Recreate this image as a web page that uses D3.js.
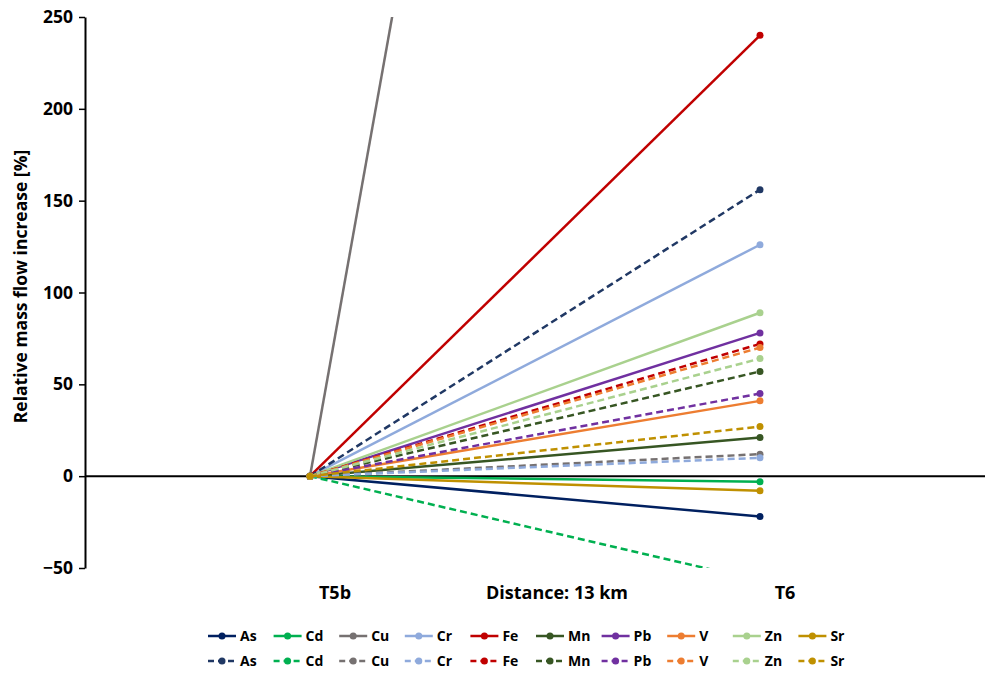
<!DOCTYPE html>
<html>
<head>
<meta charset="utf-8">
<script src="https://cdn.jsdelivr.net/npm/d3@7"></script>
<style>
  body { margin: 0; background: #fff; }
  svg { font-family: 'Open Sans', Lato, sans-serif; font-weight: bold; }
</style>
</head>
<body>
<svg id="chart" width="990" height="674"></svg>
<script>
// values (T5b is the baseline, always 0)
let sites = ['T5b', 'T6']
let elements = ['As', 'Cd', 'Cu', 'Cr', 'Fe', 'Mn', 'Pb', 'V', 'Zn', 'Sr']
let solidT6 = [-22, -3, 1370, 126, 240, 21, 78, 41, 89, -8]
let dashedT6 = [156, -57, 12, 10, 72, 57, 45, 70, 64, 27]
let solidColours = ['#002060', '#00b050', '#767171', '#8faadc', '#c00000', '#375623', '#7030a0', '#ed7d31', '#a9d18e', '#bf9000']
let dashedColours = ['#203864', '#00b050', '#767171', '#8faadc', '#c00000', '#375623', '#7030a0', '#ed7d31', '#a9d18e', '#bf9000']
let yTicks = [-50, 0, 50, 100, 150, 200, 250]

let margin = {top: 17, right: 5, bottom: 106, left: 85}
let width = 990 - margin.left - margin.right
let height = 674 - margin.top - margin.bottom

let series = []
elements.forEach(function(el, i) {
  series.push({name: el, dashed: false, colour: solidColours[i], values: [0, solidT6[i]]})
})
elements.forEach(function(el, i) {
  series.push({name: el, dashed: true, colour: dashedColours[i], values: [0, dashedT6[i]]})
})

let svg = d3.select('#chart')

let g = svg.append('g')
    .attr('transform', 'translate(' + margin.left + ',' + margin.top + ')')

let x = d3.scalePoint()
    .domain(sites)
    .range([0, width])
    .padding(0.5)

let y = d3.scaleLinear()
    .domain([-50, 250])
    .range([height, 0])

g.append('clipPath')
    .attr('id', 'plot-clip')
  .append('rect')
    .attr('width', width)
    .attr('height', height)

let yAxis = g.append('g')
    .attr('class', 'y axis')
    .call(d3.axisLeft(y).tickValues(yTicks).tickSize(6).tickSizeOuter(0))

yAxis.select('.domain')
    .style('stroke', '#000')
    .style('stroke-width', 2)

yAxis.selectAll('line')
    .style('stroke', '#000')
    .style('stroke-width', 1.5)

yAxis.selectAll('text')
    .attr('x', -12)
    .style('font-size', '17.5px')
    .style('font-family', "'Open Sans', Lato, sans-serif")
    .style('font-weight', 'bold')
    .style('fill', '#000')

g.append('line')
    .attr('x1', 0)
    .attr('x2', width)
    .attr('y1', y(0))
    .attr('y2', y(0))
    .style('stroke', '#000')
    .style('stroke-width', 2)

let line = d3.line()
    .x(function(d, i) { return x(sites[i]) })
    .y(function(d) { return y(d) })

let plot = g.append('g')
    .attr('clip-path', 'url(#plot-clip)')

let lines = plot.selectAll('.series')
    .data(series)
  .enter().append('g')
    .attr('class', 'series')

lines.append('path')
    .attr('d', function(d) { return line(d.values) })
    .attr('fill', 'none')
    .attr('stroke', function(d) { return d.colour })
    .attr('stroke-width', 2.5)
    .attr('stroke-dasharray', function(d) { return d.dashed ? '7,4' : null })

lines.selectAll('circle')
    .data(function(d) { return d.values.map(function(v, i) { return {v: v, i: i, colour: d.colour} }) })
  .enter().append('circle')
    .attr('cx', function(d) { return x(sites[d.i]) })
    .attr('cy', function(d) { return y(d.v) })
    .attr('r', 3.5)
    .attr('fill', function(d) { return d.colour })

// category labels sit a bit right of their points in the original
g.selectAll('.site-label')
    .data(sites)
  .enter().append('text')
    .attr('class', 'site-label')
    .attr('x', function(d) { return x(d) + 25 })
    .attr('y', height + 31)
    .attr('text-anchor', 'middle')
    .style('font-size', '18px')
    .text(function(d) { return d })

g.append('text')
    .attr('x', 472)
    .attr('y', height + 31)
    .attr('text-anchor', 'middle')
    .style('font-size', '18px')
    .text('Distance: 13 km')

svg.append('text')
    .attr('transform', 'translate(27,' + (margin.top + height / 2 - 6) + ') rotate(-90)')
    .attr('text-anchor', 'middle')
    .style('font-size', '17.5px')
    .text('Relative mass flow increase [%]')

// legend
let legend = svg.append('g')
    .attr('transform', 'translate(208,636)')

let items = legend.selectAll('.item')
    .data(series)
  .enter().append('g')
    .attr('class', 'item')
    .attr('transform', function(d, i) {
      return 'translate(' + ((i % 10) * 65.6) + ',' + (d.dashed ? 25 : 0) + ')'
    })

items.append('line')
    .attr('x1', 0)
    .attr('x2', 28)
    .attr('stroke', function(d) { return d.colour })
    .attr('stroke-width', 2.5)
    .attr('stroke-dasharray', function(d) { return d.dashed ? '6,4' : null })

items.append('circle')
    .attr('cx', 14)
    .attr('r', 3.5)
    .attr('fill', function(d) { return d.colour })

items.append('text')
    .attr('x', 32)
    .attr('dy', '0.35em')
    .style('font-size', '14px')
    .text(function(d) { return d.name })
</script>
</body>
</html>
